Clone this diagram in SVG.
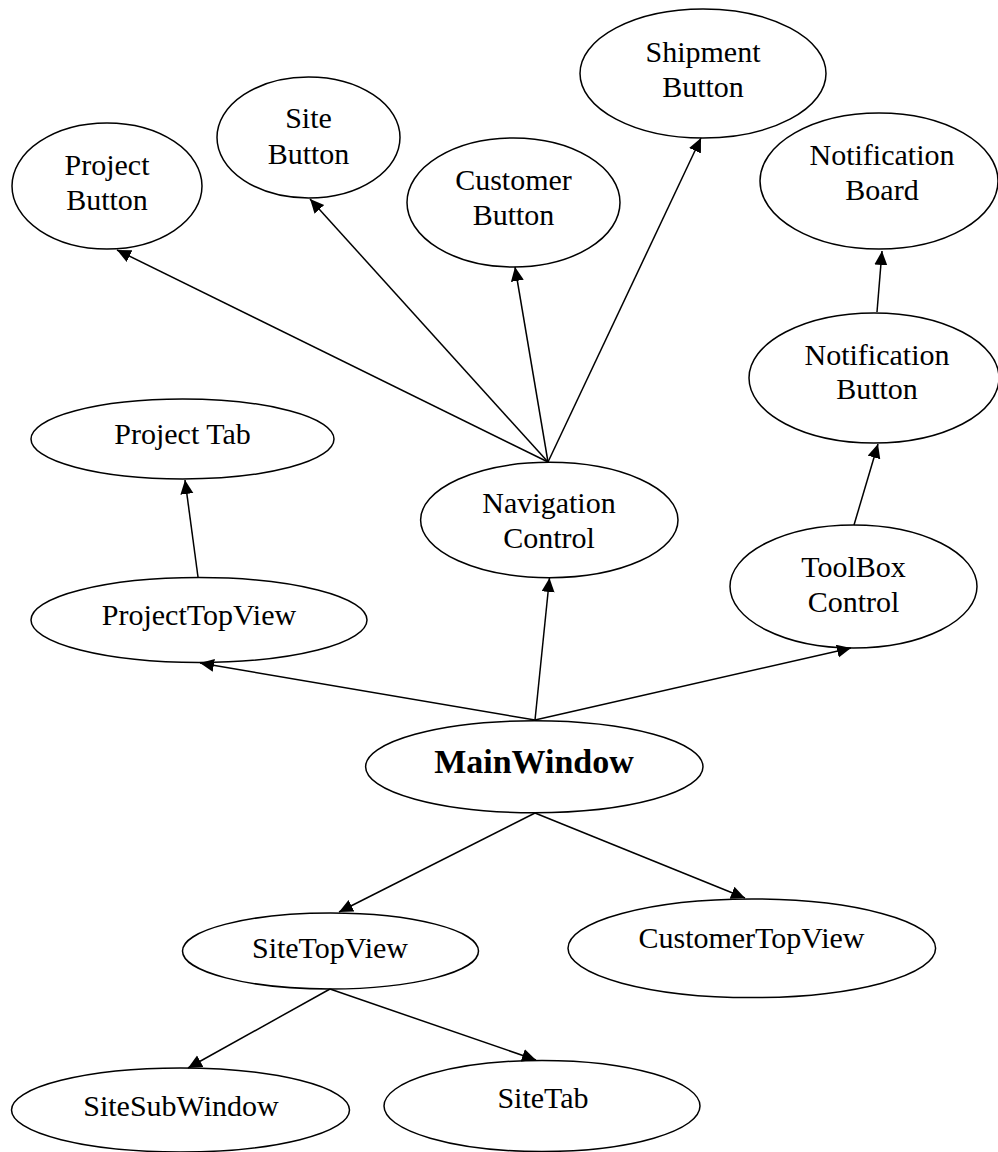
<svg xmlns="http://www.w3.org/2000/svg" width="998" height="1152" viewBox="0 0 998 1152">
<style>
.n ellipse{fill:none;stroke:#000;stroke-width:1.5}
.n text{font-family:"Liberation Serif","Times New Roman",serif;font-size:30px;text-anchor:middle;fill:#000}
.n text.b{font-weight:bold;font-size:34px}
#edges line{stroke:#000;stroke-width:1.5;marker-end:url(#ah)}
</style>
<defs>
<marker id="ah" markerUnits="userSpaceOnUse" markerWidth="16" markerHeight="14" refX="14" refY="6.5" orient="auto" viewBox="0 0 16 14">
<path d="M0,0 L14,6.5 L0,13 z" fill="#000"/>
</marker>
</defs>
<rect width="998" height="1152" fill="#fff"/>
<g id="edges">
<line x1="548" y1="462" x2="117" y2="250"/>
<line x1="548" y1="462" x2="310" y2="199"/>
<line x1="548" y1="462" x2="515" y2="267"/>
<line x1="548" y1="462" x2="701" y2="138"/>
<line x1="198" y1="577" x2="185" y2="480"/>
<line x1="535" y1="720" x2="200" y2="663"/>
<line x1="535" y1="720" x2="549.5" y2="578"/>
<line x1="535" y1="720" x2="851" y2="648"/>
<line x1="854" y1="525" x2="878" y2="444"/>
<line x1="877" y1="312" x2="882" y2="251"/>
<line x1="535" y1="813" x2="339" y2="912"/>
<line x1="535" y1="813" x2="745" y2="898"/>
<line x1="330" y1="989" x2="188" y2="1068"/>
<line x1="330" y1="989" x2="536" y2="1060"/>
</g>
<g id="ProjectButton" class="n"><ellipse cx="107" cy="186" rx="95" ry="63"/><text x="107" y="175">Project</text><text x="107" y="210">Button</text></g>
<g id="SiteButton" class="n"><ellipse cx="308.5" cy="137.5" rx="91.5" ry="60.5"/><text x="308.5" y="128">Site</text><text x="308.5" y="164">Button</text></g>
<g id="CustomerButton" class="n"><ellipse cx="513.5" cy="202.5" rx="106.5" ry="64.5"/><text x="513.5" y="190">Customer</text><text x="513.5" y="225">Button</text></g>
<g id="ShipmentButton" class="n"><ellipse cx="703" cy="73.5" rx="123" ry="64.5"/><text x="703" y="62">Shipment</text><text x="703" y="97">Button</text></g>
<g id="NotificationBoard" class="n"><ellipse cx="879" cy="181" rx="119" ry="68"/><text x="882" y="165">Notification</text><text x="882" y="200">Board</text></g>
<g id="NotificationButton" class="n"><ellipse cx="874" cy="378" rx="125" ry="65"/><text x="877" y="365">Notification</text><text x="877" y="399">Button</text></g>
<g id="ProjectTab" class="n"><ellipse cx="182.5" cy="439" rx="151.5" ry="40"/><text x="182.5" y="444">Project Tab</text></g>
<g id="NavigationControl" class="n"><ellipse cx="549.3" cy="520" rx="128.7" ry="57.7"/><text x="549" y="513">Navigation</text><text x="549" y="548">Control</text></g>
<g id="ToolBoxControl" class="n"><ellipse cx="853.5" cy="586.5" rx="123.5" ry="61.5"/><text x="853.5" y="577">ToolBox</text><text x="853.5" y="612">Control</text></g>
<g id="ProjectTopView" class="n"><ellipse cx="199" cy="620" rx="168" ry="42.5"/><text x="199" y="625">ProjectTopView</text></g>
<g id="MainWindow" class="n"><ellipse cx="534.3" cy="766.7" rx="168.7" ry="46"/><text class="b" x="534" y="773">MainWindow</text></g>
<g id="SiteTopView" class="n"><ellipse cx="330.5" cy="951" rx="148" ry="38"/><text x="330" y="958">SiteTopView</text></g>
<g id="CustomerTopView" class="n"><ellipse cx="751.8" cy="948.3" rx="183.8" ry="49.3"/><text x="751.5" y="948">CustomerTopView</text></g>
<g id="SiteSubWindow" class="n"><ellipse cx="180.5" cy="1110" rx="169" ry="42"/><text x="181" y="1116">SiteSubWindow</text></g>
<g id="SiteTab" class="n"><ellipse cx="542" cy="1106" rx="158" ry="45.5"/><text x="543" y="1108">SiteTab</text></g>
</svg>
